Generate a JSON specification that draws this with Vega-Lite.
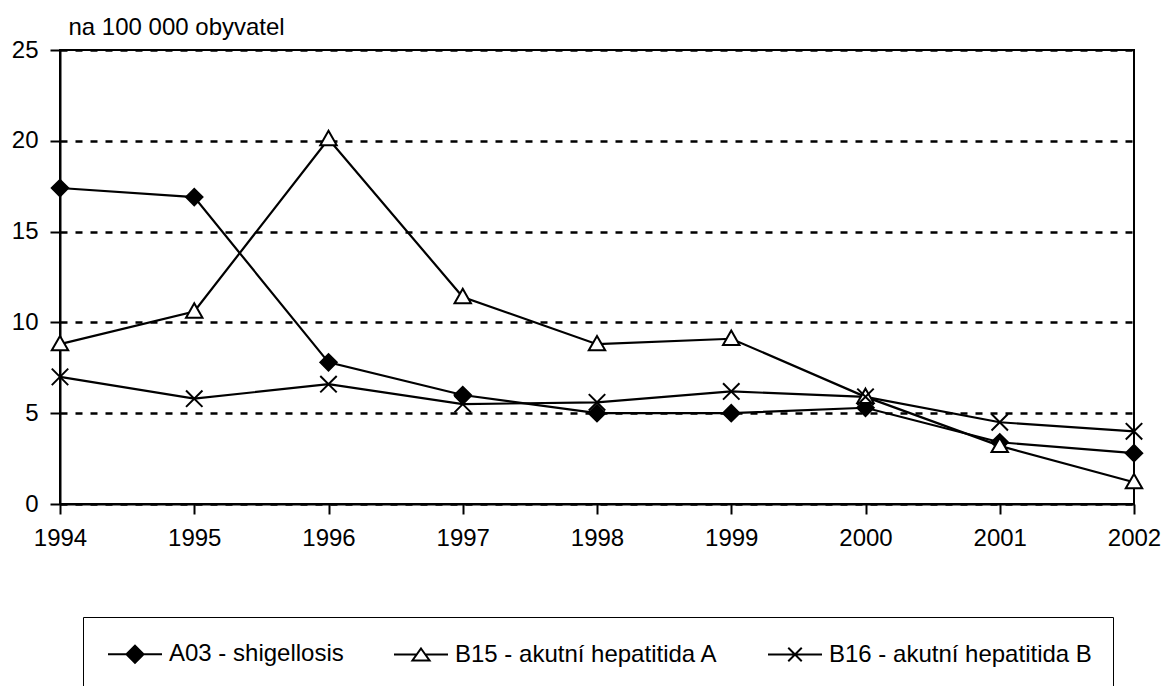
{
  "$schema": "https://vega.github.io/schema/vega-lite/v6.json",
  "autosize": {"type": "none"},
  "width": 1074,
  "height": 454,
  "padding": {"left": 60, "top": 50, "right": 31, "bottom": 182},
  "background": "white",
  "config": {
    "view": {"stroke": "black", "strokeWidth": 2},
    "font": "Liberation Sans"
  },
  "data": {
    "values": [
      {"year": 1994, "series": "A03 - shigellosis", "value": 17.4},
      {"year": 1995, "series": "A03 - shigellosis", "value": 16.9},
      {"year": 1996, "series": "A03 - shigellosis", "value": 7.8},
      {"year": 1997, "series": "A03 - shigellosis", "value": 6.0},
      {"year": 1998, "series": "A03 - shigellosis", "value": 5.0},
      {"year": 1999, "series": "A03 - shigellosis", "value": 5.0},
      {"year": 2000, "series": "A03 - shigellosis", "value": 5.3},
      {"year": 2001, "series": "A03 - shigellosis", "value": 3.4},
      {"year": 2002, "series": "A03 - shigellosis", "value": 2.8},
      {"year": 1994, "series": "B15 - akutní hepatitida A", "value": 8.8},
      {"year": 1995, "series": "B15 - akutní hepatitida A", "value": 10.6},
      {"year": 1996, "series": "B15 - akutní hepatitida A", "value": 20.1},
      {"year": 1997, "series": "B15 - akutní hepatitida A", "value": 11.4},
      {"year": 1998, "series": "B15 - akutní hepatitida A", "value": 8.8},
      {"year": 1999, "series": "B15 - akutní hepatitida A", "value": 9.1},
      {"year": 2000, "series": "B15 - akutní hepatitida A", "value": 5.9},
      {"year": 2001, "series": "B15 - akutní hepatitida A", "value": 3.2},
      {"year": 2002, "series": "B15 - akutní hepatitida A", "value": 1.2},
      {"year": 1994, "series": "B16 - akutní hepatitida B", "value": 7.0},
      {"year": 1995, "series": "B16 - akutní hepatitida B", "value": 5.8},
      {"year": 1996, "series": "B16 - akutní hepatitida B", "value": 6.6},
      {"year": 1997, "series": "B16 - akutní hepatitida B", "value": 5.5},
      {"year": 1998, "series": "B16 - akutní hepatitida B", "value": 5.6},
      {"year": 1999, "series": "B16 - akutní hepatitida B", "value": 6.2},
      {"year": 2000, "series": "B16 - akutní hepatitida B", "value": 5.9},
      {"year": 2001, "series": "B16 - akutní hepatitida B", "value": 4.5},
      {"year": 2002, "series": "B16 - akutní hepatitida B", "value": 4.0}
    ]
  },
  "encoding": {
    "x": {
      "field": "year",
      "type": "quantitative",
      "scale": {"domain": [1994, 2002], "nice": false, "zero": false},
      "axis": {
        "title": null,
        "values": [1994, 1995, 1996, 1997, 1998, 1999, 2000, 2001, 2002],
        "format": "d",
        "grid": false,
        "domainColor": "black",
        "domainWidth": 2,
        "tickColor": "black",
        "tickWidth": 2,
        "tickSize": 10,
        "labelPadding": 12,
        "labelFontSize": 24,
        "labelColor": "black",
        "labelFont": "Liberation Sans",
        "labelFlush": false,
        "labelOverlap": false
      }
    },
    "y": {
      "field": "value",
      "type": "quantitative",
      "scale": {"domain": [0, 25], "nice": false},
      "axis": {
        "values": [0, 5, 10, 15, 20, 25],
        "title": "na 100 000 obyvatel",
        "titleAngle": 0,
        "titleAlign": "left",
        "titleBaseline": "alphabetic",
        "titleX": 8,
        "titleY": -16,
        "titleFontSize": 24,
        "titleFontWeight": "normal",
        "titleColor": "black",
        "titleFont": "Liberation Sans",
        "grid": true,
        "gridColor": "black",
        "gridWidth": 2.5,
        "gridDash": [7, 8],
        "gridOpacity": 1,
        "domainColor": "black",
        "domainWidth": 2,
        "tickColor": "black",
        "tickWidth": 2,
        "tickSize": 10,
        "labelPadding": 12,
        "labelFontSize": 24,
        "labelColor": "black",
        "labelFont": "Liberation Sans",
        "labelFlush": false
      }
    }
  },
  "layer": [
    {
      "mark": {"type": "line", "color": "black", "strokeWidth": 2.2},
      "encoding": {"detail": {"field": "series", "type": "nominal"}}
    },
    {
      "mark": {"type": "point", "filled": false, "stroke": "black", "strokeWidth": 2, "opacity": 1, "size": 270},
      "encoding": {
        "shape": {
          "field": "series",
          "type": "nominal",
          "scale": {
            "domain": ["A03 - shigellosis", "B15 - akutní hepatitida A", "B16 - akutní hepatitida B"],
            "range": ["diamond", "M0,-1L1,0.75L-1,0.75Z", "M-1,-1L1,1M-1,1L1,-1"]
          },
          "legend": null
        },
        "fill": {
          "field": "series",
          "type": "nominal",
          "scale": {
            "domain": ["A03 - shigellosis", "B15 - akutní hepatitida A", "B16 - akutní hepatitida B"],
            "range": ["black", "white", "transparent"]
          },
          "legend": null
        }
      }
    },
    {
      "mark": {"type": "point", "filled": false, "strokeWidth": 2, "opacity": 0},
      "encoding": {
        "shape": {
          "field": "series",
          "type": "nominal",
          "scale": {
            "domain": ["A03 - shigellosis", "B15 - akutní hepatitida A", "B16 - akutní hepatitida B"],
            "range": [
              "M-0.8,0H2.8M1,-0.57L1.57,0L1,0.57L0.43,0Z",
              "M-0.8,0H0.715M1.285,0H2.8M1,-0.4L1.57,0.4L0.43,0.4Z",
              "M-0.8,0H2.8M0.55,-0.45L1.45,0.45M0.55,0.45L1.45,-0.45"
            ]
          },
          "legend": {
            "title": null,
            "orient": "none",
            "legendX": 23,
            "legendY": 567,
            "direction": "horizontal",
            "columns": 3,
            "strokeColor": "black",
            "padding": 21,
            "fillColor": "white",
            "columnPadding": 46,
            "symbolSize": 900,
            "symbolStrokeWidth": 2,
            "symbolOpacity": 1,
            "labelOffset": 33,
            "labelFontSize": 24,
            "labelLimit": 0,
            "labelColor": "black",
            "labelFont": "Liberation Sans"
          }
        },
        "fill": {
          "field": "series",
          "type": "nominal",
          "scale": {
            "domain": ["A03 - shigellosis", "B15 - akutní hepatitida A", "B16 - akutní hepatitida B"],
            "range": ["black", "white", "transparent"]
          },
          "legend": {
            "title": null,
            "orient": "none",
            "legendX": 23,
            "legendY": 567,
            "direction": "horizontal",
            "columns": 3,
            "strokeColor": "black",
            "padding": 21,
            "fillColor": "white",
            "columnPadding": 46,
            "symbolSize": 900,
            "symbolStrokeWidth": 2,
            "symbolOpacity": 1,
            "labelOffset": 33,
            "labelFontSize": 24,
            "labelLimit": 0,
            "labelColor": "black",
            "labelFont": "Liberation Sans"
          }
        },
        "stroke": {
          "field": "series",
          "type": "nominal",
          "scale": {
            "domain": ["A03 - shigellosis", "B15 - akutní hepatitida A", "B16 - akutní hepatitida B"],
            "range": ["black", "black", "black"]
          },
          "legend": {
            "title": null,
            "orient": "none",
            "legendX": 23,
            "legendY": 567,
            "direction": "horizontal",
            "columns": 3,
            "strokeColor": "black",
            "padding": 21,
            "fillColor": "white",
            "columnPadding": 46,
            "symbolSize": 900,
            "symbolStrokeWidth": 2,
            "symbolOpacity": 1,
            "labelOffset": 33,
            "labelFontSize": 24,
            "labelLimit": 0,
            "labelColor": "black",
            "labelFont": "Liberation Sans"
          }
        }
      }
    }
  ],
  "resolve": {"scale": {"shape": "independent", "fill": "independent", "stroke": "independent"}}
}
